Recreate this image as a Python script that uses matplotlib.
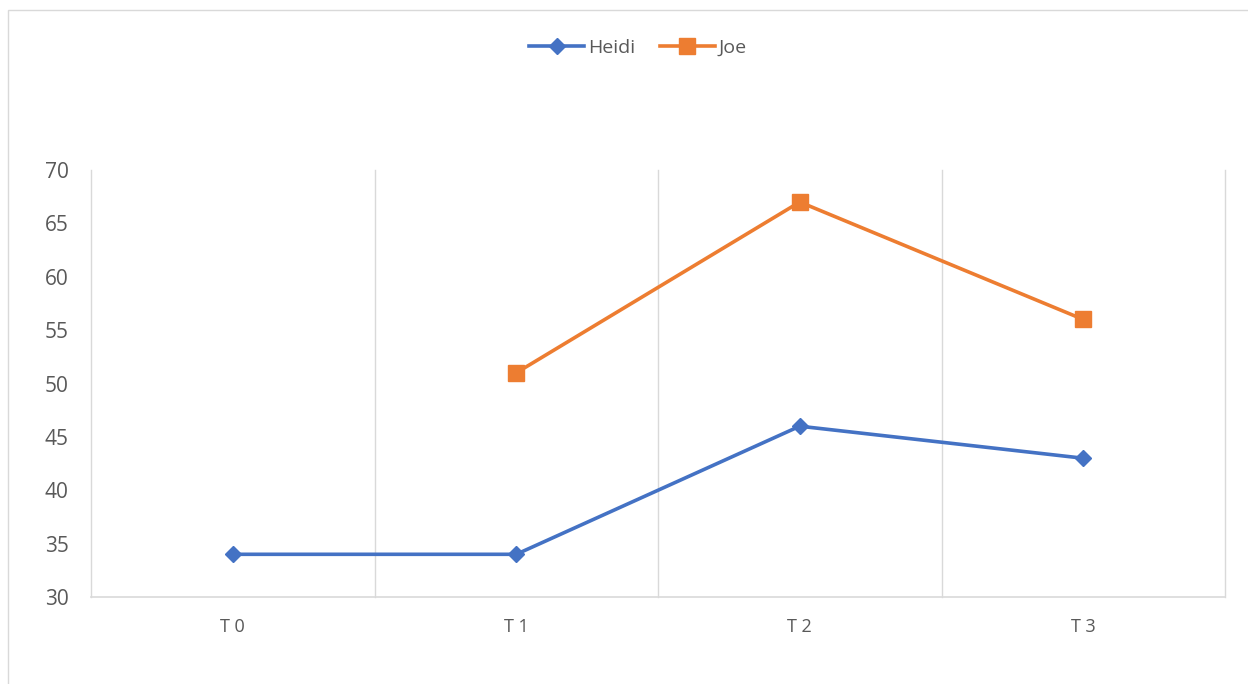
import numpy as np
import matplotlib
matplotlib.use("Agg")
import matplotlib.pyplot as plt
from matplotlib.patches import Rectangle

plt.rcParams['font.family'] = ['Open Sans', 'DejaVu Sans']

categories = ["T 0", "T 1", "T 2", "T 3"]
heidi = [34, 34, 46, 43]
joe = [np.nan, 51, 67, 56]
y_ticks = [30, 35, 40, 45, 50, 55, 60, 65, 70]

BLUE = "#4472C4"
ORANGE = "#ED7D31"
GRID = "#D9D9D9"
TEXT = "#595959"

fig = plt.figure(figsize=(12.48, 6.84), dpi=100)
fig.patch.set_facecolor("white")

# Chart-area frame
fig.patches.append(Rectangle((8 / 1248, -0.05), 1.1, 1 - 10 / 684 + 0.05,
                             transform=fig.transFigure, fill=False,
                             edgecolor=GRID, linewidth=1.0))

ax = fig.add_axes([91 / 1248, 1 - 597 / 684, (1225 - 91) / 1248, (597 - 170) / 684])
x = np.arange(len(categories))

ax.plot(x, heidi, color=BLUE, linewidth=2.6, marker="D", markersize=8.5,
        label="Heidi", solid_joinstyle="round", zorder=3)
ax.plot(x, joe, color=ORANGE, linewidth=2.6, marker="s", markersize=11.5,
        label="Joe", solid_joinstyle="round", zorder=3)

ax.set_xlim(-0.5, len(categories) - 0.5)
ax.set_ylim(30, 70)
ax.set_yticks(y_ticks)
ax.set_xticks(x)
ax.set_xticklabels(categories)

# Vertical gridlines on category boundaries
for b in np.arange(-0.5, len(categories), 1.0):
    ax.axvline(b, color=GRID, linewidth=1.0, zorder=1, clip_on=False)

for s in ["top", "right", "left"]:
    ax.spines[s].set_visible(False)
ax.spines["bottom"].set_color(GRID)
ax.spines["bottom"].set_linewidth(1.2)

ax.tick_params(axis="both", length=0, colors=TEXT)
ax.tick_params(axis="y", labelsize=15, pad=16)
ax.tick_params(axis="x", labelsize=13, pad=15)

leg = fig.legend(loc="center", bbox_to_anchor=(638 / 1248, 1 - 48 / 684), ncol=2,
                 frameon=False, fontsize=14, handlelength=2.8,
                 handletextpad=0.2, columnspacing=1.3, labelcolor=TEXT)

fig.savefig("out.png", dpi=100)
